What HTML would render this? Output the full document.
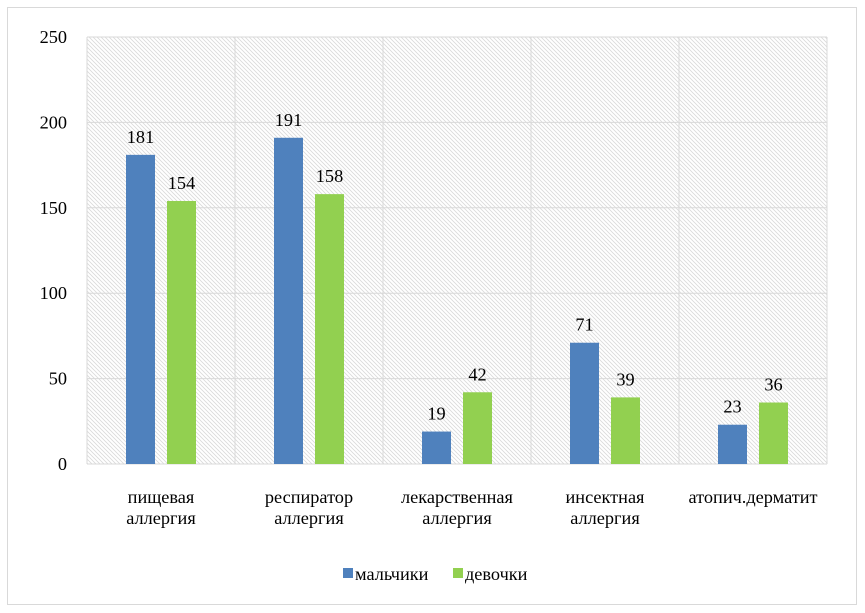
<!DOCTYPE html>
<html><head><meta charset="utf-8"><style>
body{margin:0;background:#fff}
svg{display:block;font-family:"Liberation Serif",serif}
</style></head><body>
<svg id="c" width="865" height="613">
<defs><pattern id="h" width="4" height="4" patternUnits="userSpaceOnUse"><path d="M-1,-1 L5,5 M-1,3 L1,5 M3,-1 L5,1" stroke="#d9d9d9" stroke-width="0.8"/></pattern></defs>
<rect x="7.5" y="7.5" width="849" height="597" fill="#fff" stroke="#d9d9d9"/>
<g id="plot"></g>
</svg>
<script>
const categories=[["пищевая","аллергия"],["респиратор","аллергия"],["лекарственная","аллергия"],["инсектная","аллергия"],["атопич.дерматит"]];
const boys=[181,191,19,71,23];
const girls=[154,158,42,39,36];
const ticks=[0,50,100,150,200,250];
const NS="http://www.w3.org/2000/svg";
const g=document.getElementById('plot');
const X0=87,X1=827,Y0=464,Y1=37,MAX=250,FS=18.3;
const y=v=>Y0-(v/MAX)*(Y0-Y1);
const cw=(X1-X0)/categories.length;
function el(t,a,p){const e=document.createElementNS(NS,t);for(const k in a)e.setAttribute(k,a[k]);(p||g).appendChild(e);return e;}
const bg=el('rect',{x:X0,y:Y1,width:X1-X0,height:Y0-Y1,fill:'url(#h)'});


ticks.forEach(t=>{
 const l=el('line',{x1:X0,x2:X1,y1:y(t),y2:y(t),stroke:'#d9d9d9'});
 
 
 const tx=el('text',{x:67,y:y(t)+6,'text-anchor':'end','font-size':FS,fill:'#000'});tx.textContent=t;
 
 
});
for(let i=0;i<=categories.length;i++){
 const l=el('line',{x1:X0+i*cw,x2:X0+i*cw,y1:Y1,y2:Y0,stroke:'#d9d9d9'});
 
 
}
const bw=29,gap=12;
categories.forEach((c,i)=>{
 const cx=X0+i*cw+cw/2;
 [[boys[i],'#4f81bd',cx-gap/2-bw],[girls[i],'#92d050',cx+gap/2]].forEach(([v,col,bx],j)=>{
  const r=el('rect',{x:bx,y:y(v),width:bw,height:Y0-y(v),fill:col});
  
  
  const t=el('text',{x:bx+bw/2,y:y(v)-12,'text-anchor':'middle','font-size':FS,fill:'#000'});t.textContent=v;
  
  
 });
 c.forEach((s,k)=>{
  const t=el('text',{x:cx,y:503+k*21,'text-anchor':'middle','font-size':FS,fill:'#000'});t.textContent=s;
  
  
 });
});
[['#4f81bd','мальчики',343],['#92d050','девочки',453]].forEach(([c,s,x])=>{
 const r=el('rect',{x:x,y:568,width:10,height:10,fill:c});
 
 
 const t=el('text',{x:x+12,y:580,'font-size':FS,fill:'#000'});t.textContent=s;
 
 
});
</script>
</body></html>
